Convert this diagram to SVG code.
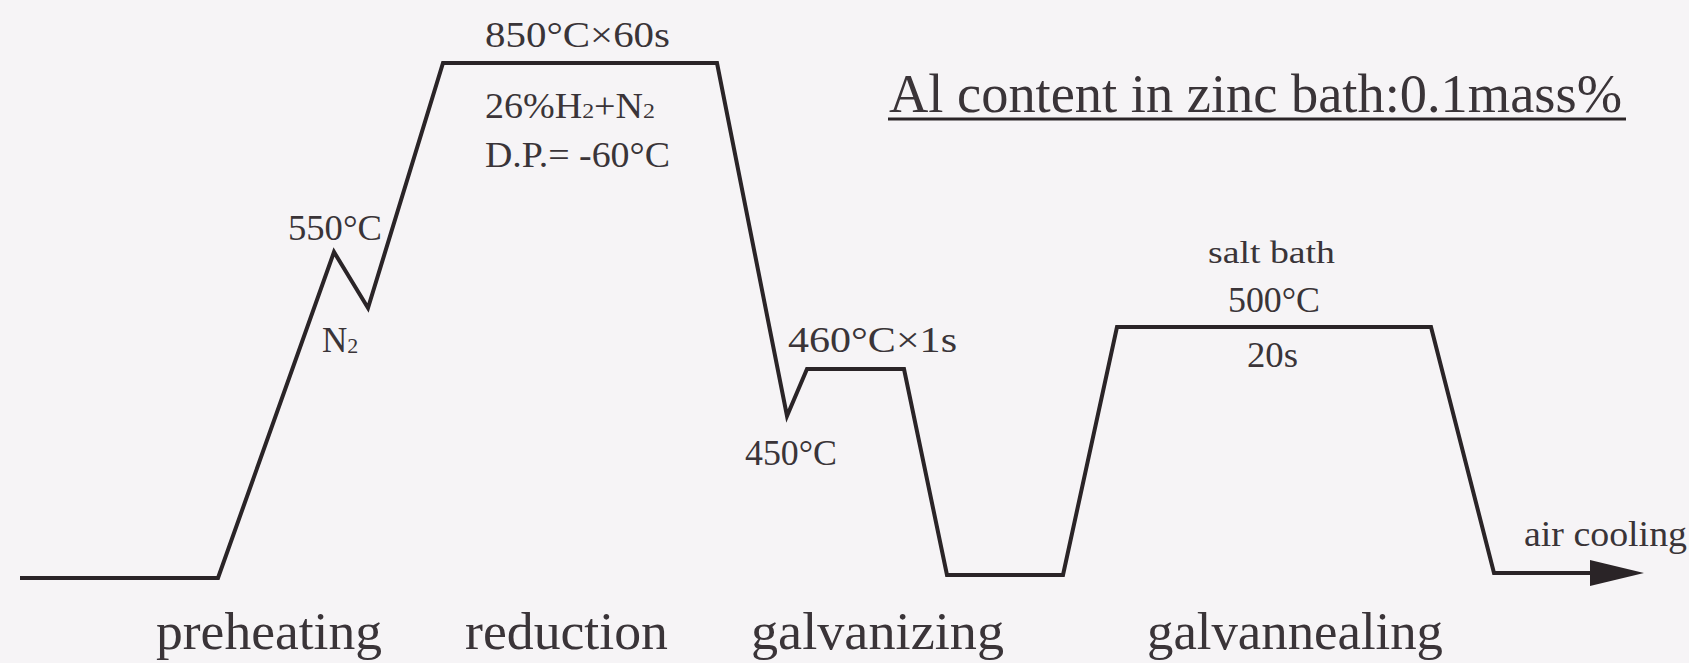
<svg xmlns="http://www.w3.org/2000/svg" width="1689" height="663" viewBox="0 0 1689 663">
  <style>
    .t { font-family: "Liberation Serif", "Times New Roman", serif; fill: #3a3438; }
    .s { font-size: 35px; }
    .big { font-size: 53px; }
    .line { fill: none; stroke: #2a2427; stroke-width: 4; stroke-linejoin: miter; stroke-linecap: butt; }
  </style>
  <rect x="0" y="0" width="1689" height="663" fill="#f6f4f6"/>

  <g id="connectors">
    <path class="line" d="M20,578 L218,578 L334,252 L368,308 L443,63 L717,63 L787,416 L807,369 L904,369 L947,575 L1063,575 L1117,327 L1431,327 L1494,573 L1594,573"/>
    <polygon points="1590,560 1644,573 1590,586" fill="#2a2427"/>
  </g>

  <g id="title">
    <text class="t" x="889" y="112" font-size="54" textLength="733" lengthAdjust="spacingAndGlyphs">Al content in zinc bath:0.1mass%</text>
    <line x1="888" y1="119" x2="1626" y2="119" stroke="#2a2427" stroke-width="3"/>
  </g>

  <g id="preheating">
    <text class="t s" x="288" y="240" textLength="94" lengthAdjust="spacingAndGlyphs">550°C</text>
    <text class="t s" x="322" y="352">N<tspan font-size="22" dy="1">2</tspan></text>
    <text class="t big" x="156" y="649" textLength="226" lengthAdjust="spacingAndGlyphs">preheating</text>
  </g>

  <g id="reduction">
    <text class="t s" x="485" y="47" textLength="185" lengthAdjust="spacingAndGlyphs">850°C×60s</text>
    <text class="t s" x="485" y="118" textLength="170" lengthAdjust="spacingAndGlyphs">26%H<tspan font-size="22">2</tspan>+N<tspan font-size="22">2</tspan></text>
    <text class="t s" x="485" y="167" textLength="185" lengthAdjust="spacingAndGlyphs">D.P.= -60°C</text>
    <text class="t big" x="465" y="649" textLength="203" lengthAdjust="spacingAndGlyphs">reduction</text>
  </g>

  <g id="galvanizing">
    <text class="t s" x="788" y="352" textLength="169" lengthAdjust="spacingAndGlyphs">460°C×1s</text>
    <text class="t s" x="745" y="465" textLength="92" lengthAdjust="spacingAndGlyphs">450°C</text>
    <text class="t big" x="751" y="649" textLength="253" lengthAdjust="spacingAndGlyphs">galvanizing</text>
  </g>

  <g id="galvannealing">
    <text class="t" x="1208" y="263" font-size="32" textLength="127" lengthAdjust="spacingAndGlyphs">salt bath</text>
    <text class="t s" x="1228" y="312" textLength="92" lengthAdjust="spacingAndGlyphs">500°C</text>
    <text class="t s" x="1247" y="367" textLength="51" lengthAdjust="spacingAndGlyphs">20s</text>
    <text class="t big" x="1147" y="649" textLength="296" lengthAdjust="spacingAndGlyphs">galvannealing</text>
  </g>

  <g id="air-cooling">
    <text class="t" x="1524" y="546" font-size="36" textLength="163" lengthAdjust="spacingAndGlyphs">air cooling</text>
  </g>
</svg>
